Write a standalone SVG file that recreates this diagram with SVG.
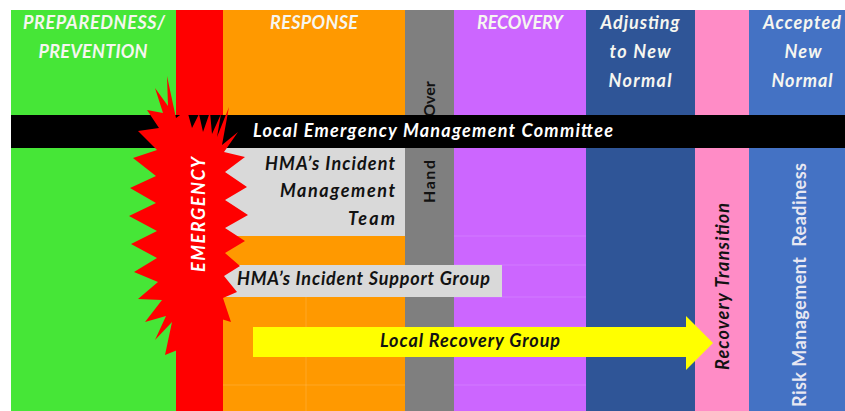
<svg xmlns="http://www.w3.org/2000/svg" width="845" height="411" viewBox="0 0 845 411">
  <style>
    text { font-family: Lato, "Liberation Sans", Arial, sans-serif; font-weight: 700; }
    .it { font-style: italic; }
    .hdr { font-size: 18px; fill: #f6f6f0; text-anchor: middle; }
    .dark { fill: #121212; }
    .mid { text-anchor: middle; }
    .end { text-anchor: end; }
    .lbl { font-size: 18px; }
    .grid { stroke: #ffffff; stroke-opacity: 0.14; stroke-width: 1; fill: none; }
    .box { fill: #d9d9d9; }
  </style>

  <rect width="845" height="411" fill="#ffffff"/>

  <!-- phase columns -->
  <g id="col-preparedness">
    <rect x="11" y="10" width="165" height="401" fill="#46e637"/>
    <text class="hdr it" x="94" y="29" textLength="142">PREPAREDNESS/</text>
    <text class="hdr it" x="93" y="58" textLength="109">PREVENTION</text>
  </g>
  <g id="col-emergency">
    <rect x="176" y="10" width="47" height="401" fill="#ff0000"/>
  </g>
  <g id="col-response">
    <rect x="223" y="10" width="182" height="401" fill="#ff9900"/>
    <text class="hdr it" x="314" y="29" textLength="88">RESPONSE</text>
  </g>
  <g id="col-handover">
    <rect x="405" y="10" width="49" height="401" fill="#7f7f7f"/>
    <text class="dark mid" font-size="16" transform="translate(435,99) rotate(-90)">Over</text>
    <text class="dark mid" font-size="16" transform="translate(435,181.5) rotate(-90)" textLength="43">Hand</text>
  </g>
  <g id="col-recovery">
    <rect x="454" y="10" width="132" height="401" fill="#cc66ff"/>
    <text class="hdr it" x="520" y="29" textLength="86">RECOVERY</text>
  </g>
  <g id="col-adjusting">
    <rect x="586" y="10" width="109" height="401" fill="#2f5597"/>
    <text class="hdr it" x="640" y="29" textLength="79">Adjusting</text>
    <text class="hdr it" x="640" y="58" textLength="61">to New</text>
    <text class="hdr it" x="640" y="87" textLength="63">Normal</text>
  </g>
  <g id="col-transition">
    <rect x="695" y="10" width="54" height="401" fill="#ff8cc6"/>
  </g>
  <g id="col-accepted">
    <rect x="749" y="10" width="96" height="401" fill="#4472c4"/>
    <text class="hdr it" x="802" y="29" textLength="78">Accepted</text>
    <text class="hdr it" x="803" y="58" textLength="37">New</text>
    <text class="hdr it" x="802" y="87" textLength="61">Normal</text>
  </g>

  <!-- faint table rules -->
  <g id="rules" class="grid">
    <path d="M454 236H586M454 265H586M454 297H586M454 327H586M454 385H586"/>
    <path d="M223 385H405M306 297V411"/>
  </g>

  <!-- committee band across all phases -->
  <g id="committee">
    <rect x="11" y="115" width="834" height="33" fill="#000000"/>
    <text class="it lbl mid" x="433" y="137" fill="#ffffff" textLength="360">Local Emergency Management Committee</text>
  </g>

  <g id="incident-team">
    <rect class="box" x="223" y="148" width="182" height="88"/>
    <text class="it lbl dark end" x="395" y="170" textLength="130">HMA’s Incident</text>
    <text class="it lbl dark end" x="395" y="197" textLength="115">Management</text>
    <text class="it lbl dark end" x="395" y="225" textLength="47">Team</text>
  </g>

  <g id="support-group">
    <rect class="box" x="223" y="265" width="279" height="32"/>
    <text class="it lbl dark" x="237" y="285" textLength="253">HMA’s Incident Support Group</text>
  </g>

  <!-- emergency starburst -->
  <g id="emergency">
    <polygon fill="#ff0000" points="167,76 176,118 187,110 192,128 199,114 203,132 210,112 212,134 221,114 217,137 229,107 222,145 238,132 224,152 245,157 225,172 247,187 225,200 248,215 225,228 245,241 225,253 240,266 224,276 237,292 223,298 231,322 218,318 212,345 190,345 165,355 172,322 155,340 166,316 145,322 162,300 138,299 158,282 134,272 157,258 131,244 157,231 129,216 156,203 130,188 156,176 133,158 157,150 138,131 159,128 147,110 163,113 155,88 168,106"/>
    <text class="it mid" font-size="18" fill="#ffffff" transform="translate(205,214.5) rotate(-90)" textLength="115">EMERGENCY</text>
  </g>

  <g id="transition-label">
    <text class="it lbl dark mid" transform="translate(729,286.5) rotate(-90)" textLength="167">Recovery Transition</text>
  </g>

  <g id="readiness-label">
    <text class="lbl mid" fill="#e8e8f2" style="white-space:pre" transform="translate(806,285) rotate(-90)" textLength="244">Risk Management  Readiness</text>
  </g>

  <!-- recovery group arrow -->
  <g id="connectors">
    <g id="recovery-group">
      <polygon points="253,327 686,327 686,316 713,343 686,370 686,357 253,357" fill="#ffff00"/>
      <text class="it lbl dark mid" x="470" y="347" textLength="180">Local Recovery Group</text>
    </g>
  </g>
</svg>
